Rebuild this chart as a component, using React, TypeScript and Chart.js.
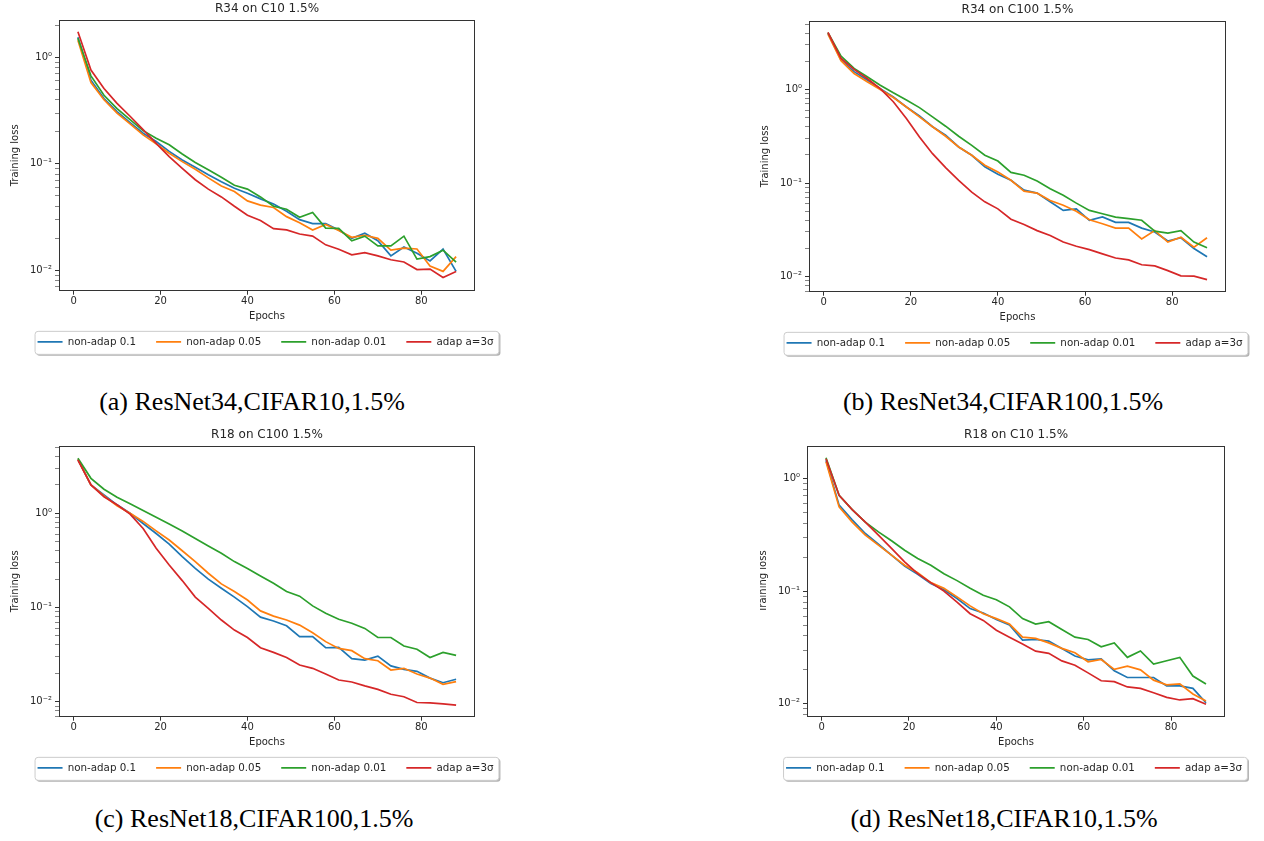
import React, { useEffect, useRef } from 'react';
import { Chart, registerables } from 'chart.js';

Chart.register(...registerables);

// ---------------- data ----------------
const EPOCHS = [1, 4, 7, 10, 13, 16, 19, 22, 25, 28, 31, 34, 37, 40, 43, 46, 49, 52, 55, 58, 61, 64, 67, 70, 73, 76, 79, 82, 85, 88];

const SERIES_LABELS = ['non-adap 0.1', 'non-adap 0.05', 'non-adap 0.01', 'adap a=3σ'];
const SERIES_COLORS = ['#1f77b4', '#ff7f0e', '#2ca02c', '#d62728'];

const X_TICKS = [0, 20, 40, 60, 80];
const Y_MAJOR_TICKS = [0.01, 0.1, 1];
const Y_TICK_LABELS = ['10⁻²', '10⁻¹', '10⁰'];
const Y_MINOR_STEPS = [2, 3, 4, 5, 6, 7, 8, 9];

// (a) R34 on C10
const A_BLUE = [1.54, 0.61, 0.41, 0.31, 0.244, 0.194, 0.162, 0.131, 0.109, 0.093, 0.079, 0.068, 0.059, 0.053, 0.047, 0.042, 0.036, 0.030, 0.0275, 0.0275, 0.024, 0.020, 0.0224, 0.019, 0.0137, 0.0166, 0.0145, 0.0123, 0.0159, 0.0098];
const A_ORANGE = [1.45, 0.58, 0.40, 0.30, 0.237, 0.187, 0.154, 0.126, 0.105, 0.089, 0.074, 0.062, 0.055, 0.045, 0.041, 0.039, 0.032, 0.028, 0.024, 0.027, 0.0237, 0.0205, 0.0214, 0.020, 0.0155, 0.0162, 0.0159, 0.011, 0.0098, 0.0135];
const A_GREEN = [1.51, 0.67, 0.44, 0.33, 0.26, 0.205, 0.174, 0.151, 0.124, 0.103, 0.088, 0.075, 0.063, 0.058, 0.049, 0.040, 0.0376, 0.0316, 0.035, 0.025, 0.0248, 0.019, 0.021, 0.017, 0.017, 0.021, 0.0128, 0.0135, 0.0155, 0.012];
const A_RED = [1.74, 0.76, 0.51, 0.37, 0.28, 0.21, 0.156, 0.117, 0.091, 0.071, 0.058, 0.049, 0.040, 0.033, 0.0294, 0.0247, 0.024, 0.022, 0.021, 0.0174, 0.0158, 0.014, 0.0147, 0.0137, 0.0126, 0.012, 0.0102, 0.0103, 0.0086, 0.0098];

// (b) R34 on C100
const B_BLUE = [3.98, 2.06, 1.55, 1.26, 1.02, 0.83, 0.65, 0.52, 0.40, 0.324, 0.243, 0.198, 0.149, 0.124, 0.107, 0.084, 0.078, 0.063, 0.051, 0.053, 0.040, 0.0435, 0.038, 0.038, 0.033, 0.030, 0.024, 0.026, 0.020, 0.0163];
const B_ORANGE = [3.9, 2.03, 1.48, 1.21, 1.0, 0.82, 0.65, 0.51, 0.40, 0.316, 0.243, 0.198, 0.155, 0.131, 0.107, 0.082, 0.078, 0.065, 0.058, 0.050, 0.0405, 0.0367, 0.033, 0.033, 0.0253, 0.031, 0.0234, 0.0263, 0.0206, 0.026];
const B_GREEN = [4.05, 2.27, 1.68, 1.37, 1.11, 0.92, 0.77, 0.64, 0.51, 0.405, 0.316, 0.253, 0.198, 0.172, 0.130, 0.121, 0.105, 0.087, 0.074, 0.061, 0.051, 0.047, 0.0433, 0.0416, 0.040, 0.0306, 0.0291, 0.031, 0.0234, 0.0203];
const B_RED = [4.08, 2.15, 1.64, 1.31, 1.02, 0.74, 0.49, 0.31, 0.206, 0.146, 0.107, 0.080, 0.063, 0.053, 0.041, 0.036, 0.031, 0.0275, 0.0234, 0.0211, 0.0194, 0.0175, 0.0158, 0.0151, 0.0134, 0.0130, 0.0116, 0.0102, 0.0101, 0.0093];

// (c) R18 on C100
const C_BLUE = [3.74, 2.0, 1.57, 1.23, 1.0, 0.78, 0.61, 0.47, 0.347, 0.26, 0.20, 0.16, 0.129, 0.102, 0.079, 0.072, 0.064, 0.049, 0.049, 0.0374, 0.0377, 0.0287, 0.0277, 0.0305, 0.024, 0.022, 0.021, 0.0178, 0.0159, 0.0173];
const C_ORANGE = [3.74, 2.0, 1.53, 1.2, 1.0, 0.82, 0.65, 0.52, 0.40, 0.307, 0.231, 0.178, 0.148, 0.120, 0.092, 0.081, 0.0736, 0.065, 0.054, 0.0434, 0.0368, 0.0348, 0.0286, 0.0272, 0.0217, 0.0226, 0.0197, 0.0178, 0.0153, 0.0163];
const C_GREEN = [3.84, 2.35, 1.80, 1.48, 1.26, 1.07, 0.91, 0.77, 0.65, 0.54, 0.45, 0.376, 0.307, 0.26, 0.216, 0.181, 0.148, 0.132, 0.104, 0.087, 0.075, 0.068, 0.060, 0.048, 0.048, 0.039, 0.036, 0.0295, 0.0334, 0.031];
const C_RED = [3.68, 2.0, 1.5, 1.23, 0.98, 0.69, 0.425, 0.283, 0.193, 0.129, 0.098, 0.0736, 0.0576, 0.048, 0.0374, 0.0334, 0.0295, 0.0245, 0.0226, 0.0197, 0.017, 0.0162, 0.0147, 0.0135, 0.012, 0.0113, 0.0098, 0.0097, 0.0095, 0.0092];

// (d) R18 on C10
const D_BLUE = [1.45, 0.58, 0.43, 0.325, 0.261, 0.209, 0.167, 0.141, 0.117, 0.103, 0.086, 0.070, 0.064, 0.056, 0.050, 0.0367, 0.0372, 0.036, 0.031, 0.0265, 0.0245, 0.025, 0.0196, 0.0171, 0.0171, 0.0171, 0.0144, 0.0144, 0.0137, 0.0102];
const D_ORANGE = [1.41, 0.56, 0.41, 0.314, 0.256, 0.209, 0.17, 0.146, 0.119, 0.106, 0.089, 0.074, 0.063, 0.057, 0.051, 0.039, 0.038, 0.0347, 0.031, 0.0284, 0.0236, 0.0247, 0.0202, 0.0216, 0.020, 0.0162, 0.0147, 0.015, 0.0122, 0.0106];
const D_GREEN = [1.53, 0.71, 0.53, 0.41, 0.336, 0.28, 0.231, 0.195, 0.17, 0.143, 0.124, 0.106, 0.092, 0.084, 0.0725, 0.057, 0.051, 0.0535, 0.0457, 0.039, 0.0372, 0.032, 0.0347, 0.0258, 0.0294, 0.0225, 0.0241, 0.0258, 0.0176, 0.015];
const D_RED = [1.5, 0.71, 0.53, 0.41, 0.314, 0.24, 0.182, 0.143, 0.119, 0.10, 0.080, 0.063, 0.055, 0.045, 0.039, 0.034, 0.0293, 0.028, 0.024, 0.022, 0.0188, 0.016, 0.0157, 0.0141, 0.0137, 0.0125, 0.0114, 0.0108, 0.0111, 0.0099];

const TITLES = ['R34 on C10 1.5%', 'R34 on C100 1.5%', 'R18 on C100 1.5%', 'R18 on C10 1.5%'];
const CAPTIONS = ['(a) ResNet34,CIFAR10,1.5%', '(b) ResNet34,CIFAR100,1.5%', '(c) ResNet18,CIFAR100,1.5%', '(d) ResNet18,CIFAR10,1.5%'];
const Y_RANGES: [number, number][] = [[0.00646, 2.24], [0.0069, 5.39], [0.00693, 5.18], [0.00767, 1.946]];
const X_RANGE: [number, number] = [-3.35, 92.35];

// ---------------- styling ----------------
const SANS = "'DejaVu Sans', sans-serif";
const TEXT_COLOR = '#262626';
const AXIS_COLOR = '#333333';

const frameAndLegendBox = {
  id: 'frameAndLegendBox',
  beforeDraw(chart: any) {
    const lg = chart.legend;
    if (!lg || !lg.legendHitBoxes || !lg.legendHitBoxes.length) return;
    const hb = lg.legendHitBoxes;
    const first = hb[0];
    const last = hb[hb.length - 1];
    const x1 = first.left - 3;
    const x2 = last.left + last.width + 5;
    const cy = first.top + first.height / 2;
    const y1 = cy - 11;
    const y2 = cy + 12;
    const ctx = chart.ctx;
    ctx.save();
    ctx.beginPath();
    ctx.roundRect(x1 + 2, y1 + 2, x2 - x1, y2 - y1, 3);
    ctx.fillStyle = 'rgba(0,0,0,0.3)';
    ctx.fill();
    ctx.beginPath();
    ctx.roundRect(x1 + 0.5, y1 + 0.5, x2 - x1, y2 - y1, 3);
    ctx.fillStyle = '#ffffff';
    ctx.fill();
    ctx.strokeStyle = '#cccccc';
    ctx.lineWidth = 1;
    ctx.stroke();
    ctx.restore();
  },
  afterDatasetsDraw(chart: any) {
    const { left, top, right, bottom } = chart.chartArea;
    const ctx = chart.ctx;
    ctx.save();
    ctx.strokeStyle = AXIS_COLOR;
    ctx.lineWidth = 1;
    ctx.strokeRect(Math.round(left) + 0.5, Math.round(top) + 0.5, Math.round(right - left) - 1, Math.round(bottom - top) - 1);
    ctx.restore();
  },
};

function isMajor(v: number) {
  return Y_MAJOR_TICKS.some((m) => Math.abs(v - m) / m < 1e-6);
}

type PanelProps = {
  idx: number;
  series: number[][];
  width: number;
  height: number;
  rightW: number;
};

function Panel({ idx, series, width, height, rightW }: PanelProps) {
  const ref = useRef<HTMLCanvasElement | null>(null);
  useEffect(() => {
    if (!ref.current) return;
    const [yMin, yMax] = Y_RANGES[idx];
    const datasets = series.map((vals, i) => ({
      label: SERIES_LABELS[i],
      data: EPOCHS.map((x, j) => ({ x, y: vals[j] })),
      borderColor: SERIES_COLORS[i],
      backgroundColor: SERIES_COLORS[i],
      borderWidth: 1.7,
      pointRadius: 0,
      tension: 0,
      fill: false,
      order: 4 - i,
    }));
    const chart = new Chart(ref.current, {
      type: 'line',
      data: { datasets },
      plugins: [frameAndLegendBox],
      options: {
        animation: false,
        responsive: false,
        devicePixelRatio: 1,
        layout: { padding: 0 },
        plugins: {
          title: {
            display: true,
            text: TITLES[idx],
            fullSize: false,
            color: TEXT_COLOR,
            font: { family: SANS, size: 12, weight: 'normal' },
            padding: { top: 2, bottom: 3.6 },
          },
          legend: {
            position: 'bottom',
            labels: {
              usePointStyle: true,
              pointStyle: 'line',
              pointStyleWidth: 25,
              padding: 20,
              color: TEXT_COLOR,
              font: { family: SANS, size: 10.3 },
              sort: (a: any, b: any) => a.datasetIndex - b.datasetIndex,
            },
          },
          tooltip: { enabled: false },
        },
        scales: {
          x: {
            type: 'linear',
            min: X_RANGE[0],
            max: X_RANGE[1],
            afterBuildTicks: (s: any) => {
              s.ticks = X_TICKS.map((v) => ({ value: v }));
            },
            afterFit: (s: any) => {
              s.height = 26;
            },
            border: { display: false },
            grid: { drawOnChartArea: false, drawTicks: true, tickLength: 4, color: AXIS_COLOR },
            ticks: { color: TEXT_COLOR, font: { family: SANS, size: 10 }, padding: 1, maxRotation: 0, autoSkip: false },
            title: { display: true, text: 'Epochs', color: TEXT_COLOR, font: { family: SANS, size: 10 }, padding: { top: 0, bottom: -6 } },
          },
          y: {
            type: 'logarithmic',
            min: yMin,
            max: yMax,
            afterBuildTicks: (s: any) => {
              const ticks: any[] = [];
              Y_MAJOR_TICKS.concat([0.001]).forEach((base) => {
                if (base >= yMin && base <= yMax) ticks.push({ value: base, major: true });
                Y_MINOR_STEPS.forEach((m) => {
                  const v = base * m;
                  if (v >= yMin && v <= yMax) ticks.push({ value: v, major: false });
                });
              });
              ticks.sort((a, b) => a.value - b.value);
              s.ticks = ticks;
            },
            afterFit: (s: any) => {
              s.width = 59;
            },
            border: { display: false },
            grid: {
              drawOnChartArea: false,
              drawTicks: true,
              tickLength: 4,
              color: AXIS_COLOR,
              tickWidth: (c: any) => (c.tick && isMajor(c.tick.value) ? 1 : 0.6),
            },
            ticks: {
              autoSkip: false,
              color: TEXT_COLOR,
              font: { family: SANS, size: 10 },
              padding: 3,
              callback: (v: any) => {
                const k = Y_MAJOR_TICKS.findIndex((m) => Math.abs(Number(v) - m) / m < 1e-6);
                return k >= 0 ? Y_TICK_LABELS[k] : '';
              },
            },
            title: { display: true, text: 'Training loss', color: TEXT_COLOR, font: { family: SANS, size: 10 }, padding: { top: 9, bottom: 0 } },
          },
          yr: {
            type: 'linear',
            position: 'right',
            display: true,
            grid: { display: false },
            border: { display: false },
            ticks: { display: false },
            afterFit: (s: any) => {
              s.width = rightW;
            },
          },
        },
      } as any,
    });
    return () => chart.destroy();
  }, [idx, series, width, height, rightW]);
  return <canvas ref={ref} width={width} height={height} style={{ width, height, display: 'block' }} />;
}

const PANEL_SERIES = [
  [A_BLUE, A_ORANGE, A_GREEN, A_RED],
  [B_BLUE, B_ORANGE, B_GREEN, B_RED],
  [C_BLUE, C_ORANGE, C_GREEN, C_RED],
  [D_BLUE, D_ORANGE, D_GREEN, D_RED],
];

// placement of each canvas (clip box, and canvas offset inside it)
const PLACEMENT = [
  { boxLeft: 0, boxTop: 0, boxW: 560, boxH: 420, cx: 0, cy: 0, w: 531, rightW: 56 },
  { boxLeft: 760, boxTop: 0, boxW: 504, boxH: 420, cx: -10, cy: 1, w: 529, rightW: 53 },
  { boxLeft: 0, boxTop: 420, boxW: 560, boxH: 421, cx: 0, cy: 6, w: 531, rightW: 56 },
  { boxLeft: 760, boxTop: 420, boxW: 504, boxH: 421, cx: -12, cy: 6, w: 532, rightW: 55 },
];

const CAPTION_POS = [
  { cx: 252, top: 389 },
  { cx: 1003, top: 389 },
  { cx: 254, top: 806 },
  { cx: 1004, top: 806 },
];

export default function App() {
  return (
    <div style={{ position: 'absolute', left: 0, top: 0, width: 1264, height: 841, overflow: 'hidden', background: '#ffffff' }}>
      {PLACEMENT.map((p, i) => (
        <div key={i} style={{ position: 'absolute', left: p.boxLeft, top: p.boxTop, width: p.boxW, height: p.boxH, overflow: 'hidden' }}>
          <div style={{ position: 'absolute', left: p.cx, top: p.cy }}>
            <Panel idx={i} series={PANEL_SERIES[i]} width={p.w} height={357} rightW={p.rightW} />
          </div>
        </div>
      ))}
      {CAPTIONS.map((c, i) => (
        <div
          key={'cap' + i}
          style={{
            position: 'absolute',
            left: CAPTION_POS[i].cx - 250,
            width: 500,
            top: CAPTION_POS[i].top,
            textAlign: 'center',
            fontFamily: "'Liberation Serif', 'Times New Roman', serif",
            fontSize: 26,
            lineHeight: '26px',
            color: '#000000',
            whiteSpace: 'nowrap',
          }}
        >
          {c}
        </div>
      ))}
    </div>
  );
}
